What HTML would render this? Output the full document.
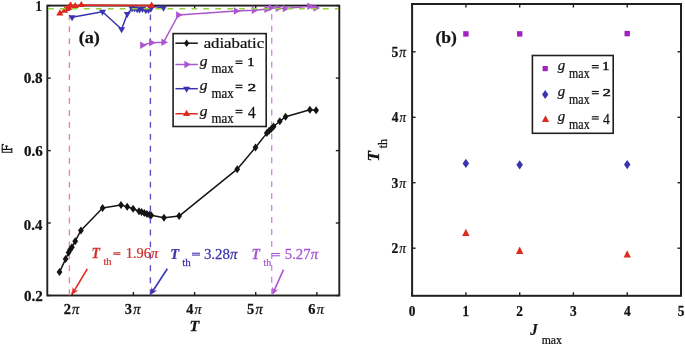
<!DOCTYPE html><html><head><meta charset="utf-8"><style>html,body{margin:0;padding:0;background:#fff;width:685px;height:346px;overflow:hidden}svg{display:block;will-change:transform;filter:blur(0.35px)}</style></head><body>
<svg width="685" height="346" viewBox="0 0 685 346" font-family="Liberation Serif">
<rect width="685" height="346" fill="#fff"/>
<rect x="47.3" y="5.6" width="292.0" height="289.9" fill="none" stroke="#231f1f" stroke-width="1.9"/>
<line x1="72.3" y1="295.5" x2="72.3" y2="292.0" stroke="#231f1f" stroke-width="1.4"/>
<line x1="72.3" y1="5.6" x2="72.3" y2="8.6" stroke="#231f1f" stroke-width="1.4"/>
<line x1="133.4" y1="295.5" x2="133.4" y2="292.0" stroke="#231f1f" stroke-width="1.4"/>
<line x1="133.4" y1="5.6" x2="133.4" y2="8.6" stroke="#231f1f" stroke-width="1.4"/>
<line x1="194.6" y1="295.5" x2="194.6" y2="292.0" stroke="#231f1f" stroke-width="1.4"/>
<line x1="194.6" y1="5.6" x2="194.6" y2="8.6" stroke="#231f1f" stroke-width="1.4"/>
<line x1="255.7" y1="295.5" x2="255.7" y2="292.0" stroke="#231f1f" stroke-width="1.4"/>
<line x1="255.7" y1="5.6" x2="255.7" y2="8.6" stroke="#231f1f" stroke-width="1.4"/>
<line x1="316.9" y1="295.5" x2="316.9" y2="292.0" stroke="#231f1f" stroke-width="1.4"/>
<line x1="316.9" y1="5.6" x2="316.9" y2="8.6" stroke="#231f1f" stroke-width="1.4"/>
<line x1="47.3" y1="295.5" x2="50.8" y2="295.5" stroke="#231f1f" stroke-width="1.4"/>
<line x1="339.3" y1="295.5" x2="335.8" y2="295.5" stroke="#231f1f" stroke-width="1.4"/>
<line x1="47.3" y1="223.0" x2="50.8" y2="223.0" stroke="#231f1f" stroke-width="1.4"/>
<line x1="339.3" y1="223.0" x2="335.8" y2="223.0" stroke="#231f1f" stroke-width="1.4"/>
<line x1="47.3" y1="150.6" x2="50.8" y2="150.6" stroke="#231f1f" stroke-width="1.4"/>
<line x1="339.3" y1="150.6" x2="335.8" y2="150.6" stroke="#231f1f" stroke-width="1.4"/>
<line x1="47.3" y1="78.1" x2="50.8" y2="78.1" stroke="#231f1f" stroke-width="1.4"/>
<line x1="339.3" y1="78.1" x2="335.8" y2="78.1" stroke="#231f1f" stroke-width="1.4"/>
<line x1="47.3" y1="5.6" x2="50.8" y2="5.6" stroke="#231f1f" stroke-width="1.4"/>
<line x1="339.3" y1="5.6" x2="335.8" y2="5.6" stroke="#231f1f" stroke-width="1.4"/>
<line x1="69.4" y1="14.4" x2="69.4" y2="295.5" stroke="#ea8693" stroke-width="1.4" stroke-dasharray="5.9 6.05"/>
<line x1="150.4" y1="14.4" x2="150.4" y2="295.5" stroke="#6a4ec8" stroke-width="1.4" stroke-dasharray="5.9 6.05"/>
<line x1="271.7" y1="13.9" x2="271.7" y2="295.5" stroke="#cf8ae9" stroke-width="1.4" stroke-dasharray="5.9 6.05"/>
<polyline points="59.5,272.1 65.6,259.1 68.6,252.4 70.2,249.6 71.9,247.2 75.2,241.2 80.9,230.4 102.6,208.1 121.0,205.1 127.2,206.8 133.1,208.7 139.0,211.3 141.6,212.1 144.3,213.0 146.9,213.9 149.5,214.7 151.2,215.2 164.0,217.8 179.1,216.1 237.2,169.2 255.5,147.5 266.8,133.1 269.1,130.8 271.4,128.7 273.6,126.5 279.8,121.3 285.6,116.7 309.9,109.7 316.1,110.2" fill="none" stroke="#141414" stroke-width="1.5" stroke-linejoin="round"/>
<path d="M59.5 268.1L62.4 272.1L59.5 276.1L56.6 272.1Z" fill="#141414"/>
<path d="M65.6 255.1L68.5 259.1L65.6 263.1L62.7 259.1Z" fill="#141414"/>
<path d="M68.6 248.4L71.5 252.4L68.6 256.4L65.7 252.4Z" fill="#141414"/>
<path d="M70.2 245.6L73.1 249.6L70.2 253.6L67.3 249.6Z" fill="#141414"/>
<path d="M71.9 243.2L74.8 247.2L71.9 251.2L69.0 247.2Z" fill="#141414"/>
<path d="M75.2 237.2L78.1 241.2L75.2 245.2L72.3 241.2Z" fill="#141414"/>
<path d="M80.9 226.4L83.8 230.4L80.9 234.4L78.0 230.4Z" fill="#141414"/>
<path d="M102.6 204.1L105.5 208.1L102.6 212.1L99.7 208.1Z" fill="#141414"/>
<path d="M121.0 201.1L123.9 205.1L121.0 209.1L118.1 205.1Z" fill="#141414"/>
<path d="M127.2 202.8L130.1 206.8L127.2 210.8L124.3 206.8Z" fill="#141414"/>
<path d="M133.1 204.7L136.0 208.7L133.1 212.7L130.2 208.7Z" fill="#141414"/>
<path d="M139.0 207.3L141.9 211.3L139.0 215.3L136.1 211.3Z" fill="#141414"/>
<path d="M141.6 208.1L144.5 212.1L141.6 216.1L138.7 212.1Z" fill="#141414"/>
<path d="M144.3 209.0L147.2 213.0L144.3 217.0L141.4 213.0Z" fill="#141414"/>
<path d="M146.9 209.9L149.8 213.9L146.9 217.9L144.0 213.9Z" fill="#141414"/>
<path d="M149.5 210.7L152.4 214.7L149.5 218.7L146.6 214.7Z" fill="#141414"/>
<path d="M151.2 211.2L154.1 215.2L151.2 219.2L148.3 215.2Z" fill="#141414"/>
<path d="M164.0 213.8L166.9 217.8L164.0 221.8L161.1 217.8Z" fill="#141414"/>
<path d="M179.1 212.1L182.0 216.1L179.1 220.1L176.2 216.1Z" fill="#141414"/>
<path d="M237.2 165.2L240.1 169.2L237.2 173.2L234.3 169.2Z" fill="#141414"/>
<path d="M255.5 143.5L258.4 147.5L255.5 151.5L252.6 147.5Z" fill="#141414"/>
<path d="M266.8 129.1L269.7 133.1L266.8 137.1L263.9 133.1Z" fill="#141414"/>
<path d="M269.1 126.8L272.0 130.8L269.1 134.8L266.2 130.8Z" fill="#141414"/>
<path d="M271.4 124.7L274.3 128.7L271.4 132.7L268.5 128.7Z" fill="#141414"/>
<path d="M273.6 122.5L276.5 126.5L273.6 130.5L270.7 126.5Z" fill="#141414"/>
<path d="M279.8 117.3L282.7 121.3L279.8 125.3L276.9 121.3Z" fill="#141414"/>
<path d="M285.6 112.7L288.5 116.7L285.6 120.7L282.7 116.7Z" fill="#141414"/>
<path d="M309.9 105.7L312.8 109.7L309.9 113.7L307.0 109.7Z" fill="#141414"/>
<path d="M316.1 106.2L319.0 110.2L316.1 114.2L313.2 110.2Z" fill="#141414"/>
<polyline points="142.3,45.2 151.3,42.8 163.6,42.2 178.3,15.0 236.0,11.0 254.0,10.2 266.6,9.2 270.7,7.8 277.9,8.2 285.0,8.4 309.6,6.3 315.7,8.0" fill="none" stroke="#ab56cf" stroke-width="1.5" stroke-linejoin="round"/>
<path d="M146.6 45.2L140.1 41.5L140.1 49.0Z" fill="#ab56cf"/>
<path d="M155.6 42.8L149.1 39.0L149.1 46.5Z" fill="#ab56cf"/>
<path d="M167.9 42.2L161.4 38.5L161.4 46.0Z" fill="#ab56cf"/>
<path d="M182.6 15.0L176.1 11.2L176.1 18.8Z" fill="#ab56cf"/>
<path d="M240.3 11.0L233.8 7.2L233.8 14.8Z" fill="#ab56cf"/>
<path d="M258.3 10.2L251.8 6.4L251.8 13.9Z" fill="#ab56cf"/>
<path d="M270.9 9.2L264.4 5.4L264.4 12.9Z" fill="#ab56cf"/>
<path d="M275.0 7.8L268.5 4.0L268.5 11.6Z" fill="#ab56cf"/>
<path d="M282.2 8.2L275.7 4.4L275.7 11.9Z" fill="#ab56cf"/>
<path d="M289.3 8.4L282.8 4.7L282.8 12.2Z" fill="#ab56cf"/>
<path d="M313.9 6.3L307.4 2.5L307.4 10.1Z" fill="#ab56cf"/>
<path d="M320.0 8.0L313.5 4.2L313.5 11.8Z" fill="#ab56cf"/>
<polyline points="72.1,17.2 102.5,11.8 121.6,29.2 127.3,13.9 132.0,8.6 134.5,8.6 137.2,9.2 139.5,9.4 142.5,9.1 145.8,10.3 148.4,10.1 150.8,8.7 153.0,6.5 163.5,7.8" fill="none" stroke="#3a34b0" stroke-width="1.5" stroke-linejoin="round"/>
<path d="M72.1 21.2L75.6 15.2L68.6 15.2Z" fill="#3a34b0"/>
<path d="M102.5 15.8L106.0 9.8L99.0 9.8Z" fill="#3a34b0"/>
<path d="M121.6 33.2L125.1 27.2L118.1 27.2Z" fill="#3a34b0"/>
<path d="M127.3 17.9L130.8 11.9L123.8 11.9Z" fill="#3a34b0"/>
<path d="M132.0 12.6L135.5 6.6L128.5 6.6Z" fill="#3a34b0"/>
<path d="M134.5 12.6L138.0 6.6L131.0 6.6Z" fill="#3a34b0"/>
<path d="M137.2 13.2L140.7 7.2L133.7 7.2Z" fill="#3a34b0"/>
<path d="M139.5 13.4L143.0 7.4L136.0 7.4Z" fill="#3a34b0"/>
<path d="M142.5 13.1L146.0 7.1L139.0 7.1Z" fill="#3a34b0"/>
<path d="M145.8 14.3L149.3 8.3L142.3 8.3Z" fill="#3a34b0"/>
<path d="M148.4 14.1L151.9 8.1L144.9 8.1Z" fill="#3a34b0"/>
<path d="M150.8 12.7L154.3 6.7L147.3 6.7Z" fill="#3a34b0"/>
<path d="M163.5 11.8L167.0 5.8L160.0 5.8Z" fill="#3a34b0"/>
<polyline points="59.9,13.3 64.6,10.6 66.8,9.0 68.6,7.8 70.6,5.4 75.2,6.0 81.3,5.0 151.6,5.6" fill="none" stroke="#dc2a1e" stroke-width="1.6" stroke-linejoin="round"/>
<path d="M59.9 9.2L63.5 15.4L56.3 15.4Z" fill="#dc2a1e"/>
<path d="M64.6 6.5L68.2 12.7L61.0 12.7Z" fill="#dc2a1e"/>
<path d="M66.8 4.9L70.4 11.1L63.2 11.1Z" fill="#dc2a1e"/>
<path d="M68.6 3.7L72.2 9.9L65.0 9.9Z" fill="#dc2a1e"/>
<path d="M70.6 1.3L74.2 7.5L67.0 7.5Z" fill="#dc2a1e"/>
<path d="M75.2 1.9L78.8 8.1L71.6 8.1Z" fill="#dc2a1e"/>
<path d="M81.3 0.9L84.9 7.1L77.7 7.1Z" fill="#dc2a1e"/>
<path d="M151.6 1.5L155.2 7.7L148.0 7.7Z" fill="#dc2a1e"/>
<line x1="48" y1="8.7" x2="338.3" y2="8.7" stroke="#94d040" stroke-width="1.6" stroke-dasharray="5.8 6.15"/>
<text transform="translate(23.64 83.14) scale(1.062 1)" font-size="14.26" fill="#141414" stroke="#141414" stroke-width="0.25"><tspan font-weight="bold">0.8</tspan></text>
<text transform="translate(23.95 156.34) scale(1.057 1)" font-size="14.26" fill="#141414" stroke="#141414" stroke-width="0.25"><tspan font-weight="bold">0.6</tspan></text>
<text transform="translate(23.86 229.74) scale(1.031 1)" font-size="14.26" fill="#141414" stroke="#141414" stroke-width="0.25"><tspan font-weight="bold">0.4</tspan></text>
<text transform="translate(23.95 300.93) scale(1.048 1)" font-size="14.41" fill="#141414" stroke="#141414" stroke-width="0.25"><tspan font-weight="bold">0.2</tspan></text>
<text transform="translate(35.46 10.70) scale(0.921 1)" font-size="14.09" fill="#141414" stroke="#141414" stroke-width="0.25"><tspan font-weight="bold">1</tspan></text>
<text transform="translate(63.65 313.91) scale(1.020 1)" font-size="14.18" fill="#141414" stroke="#141414" stroke-width="0.25"><tspan font-weight="bold">2</tspan><tspan dx="0.08em" font-style="italic">π</tspan></text>
<text transform="translate(124.81 313.91) scale(1.020 1)" font-size="14.18" fill="#141414" stroke="#141414" stroke-width="0.25"><tspan font-weight="bold">3</tspan><tspan dx="0.08em" font-style="italic">π</tspan></text>
<text transform="translate(186.33 313.91) scale(0.996 1)" font-size="14.18" fill="#141414" stroke="#141414" stroke-width="0.25"><tspan font-weight="bold">4</tspan><tspan dx="0.08em" font-style="italic">π</tspan></text>
<text transform="translate(247.12 313.91) scale(1.012 1)" font-size="14.29" fill="#141414" stroke="#141414" stroke-width="0.25"><tspan font-weight="bold">5</tspan><tspan dx="0.08em" font-style="italic">π</tspan></text>
<text transform="translate(308.35 313.91) scale(1.015 1)" font-size="14.18" fill="#141414" stroke="#141414" stroke-width="0.25"><tspan font-weight="bold">6</tspan><tspan dx="0.08em" font-style="italic">π</tspan></text>
<text transform="translate(189.55 331.35) scale(1.101 1)" font-size="14.50" fill="#141414" stroke="#141414" stroke-width="0.25"><tspan font-weight="bold" font-style="italic">T</tspan></text>
<text transform="translate(78.63 42.97) scale(1.126 1)" font-size="16.11" fill="#141414" stroke="#141414" stroke-width="0.25"><tspan font-weight="bold">(a)</tspan></text>
<g fill="none" stroke="#141414" stroke-width="1.1"><path d="M1.5 149.4H12.2M1.5 152.2H12.2M2.2 152.2V144.6Q2.6 144 3.8 144.8M6.5 149.4V146.2M5.2 146.1H7.9M11.8 148V152.9"/></g>
<rect x="173.1" y="33.6" width="93.1" height="92.9" fill="#fff" stroke="#231f1f" stroke-width="1.6"/>
<line x1="175.4" y1="43.2" x2="197.8" y2="43.2" stroke="#141414" stroke-width="1.5"/>
<path d="M186.6 39.4L189.2 43.2L186.6 47.0L184.0 43.2Z" fill="#141414"/>
<line x1="175.4" y1="64.5" x2="197.8" y2="64.5" stroke="#ab56cf" stroke-width="1.5"/>
<path d="M190.9 64.5L184.4 60.8L184.4 68.2Z" fill="#ab56cf"/>
<line x1="175.4" y1="88.7" x2="197.8" y2="88.7" stroke="#3a34b0" stroke-width="1.5"/>
<path d="M186.6 92.7L190.1 86.7L183.1 86.7Z" fill="#3a34b0"/>
<line x1="175.4" y1="113.8" x2="197.8" y2="113.8" stroke="#dc2a1e" stroke-width="1.5"/>
<path d="M186.6 109.7L190.2 115.9L183.0 115.9Z" fill="#dc2a1e"/>
<text transform="translate(203.66 48.10) scale(1.094 1)" font-size="15.32" fill="#141414" stroke="#141414" stroke-width="0.25">adiabatic</text>
<text transform="translate(199.75 66.29) scale(1.100 1)" font-size="14.12" fill="#141414" stroke="#141414" stroke-width="0.25"><tspan font-style="italic">g</tspan></text>
<text transform="translate(211.39 73.41) scale(0.953 1)" font-size="13.54" fill="#141414" stroke="#141414" stroke-width="0.25">max</text>
<rect x="235.50" y="60.50" width="7.00" height="1.15" fill="#141414"/>
<rect x="235.50" y="62.85" width="7.00" height="1.15" fill="#141414"/>
<text transform="translate(247.42 66.45) scale(1.146 1)" font-size="11.97" fill="#141414" stroke="#141414" stroke-width="0.55">1</text>
<text transform="translate(199.75 90.49) scale(1.100 1)" font-size="14.12" fill="#141414" stroke="#141414" stroke-width="0.25"><tspan font-style="italic">g</tspan></text>
<text transform="translate(211.39 97.61) scale(0.953 1)" font-size="13.54" fill="#141414" stroke="#141414" stroke-width="0.25">max</text>
<rect x="235.50" y="84.70" width="7.00" height="1.15" fill="#141414"/>
<rect x="235.50" y="87.05" width="7.00" height="1.15" fill="#141414"/>
<text transform="translate(247.80 90.65) scale(1.494 1)" font-size="11.21" fill="#141414" stroke="#141414" stroke-width="0.55">2</text>
<text transform="translate(199.75 115.59) scale(1.100 1)" font-size="14.12" fill="#141414" stroke="#141414" stroke-width="0.25"><tspan font-style="italic">g</tspan></text>
<text transform="translate(211.39 122.71) scale(0.953 1)" font-size="13.54" fill="#141414" stroke="#141414" stroke-width="0.25">max</text>
<rect x="235.50" y="109.80" width="7.00" height="1.15" fill="#141414"/>
<rect x="235.50" y="112.15" width="7.00" height="1.15" fill="#141414"/>
<text transform="translate(248.04 118.15) scale(0.969 1)" font-size="15.76" fill="#141414" stroke="#141414" stroke-width="0.25">4</text>
<line x1="87.3" y1="268.8" x2="74.0" y2="291.1" stroke="#dc2a1e" stroke-width="1.6"/>
<path d="M71.7 295.0L72.7 286.9L74.4 290.4L78.4 290.2Z" fill="#dc2a1e"/>
<line x1="167.3" y1="268.8" x2="152.7" y2="291.2" stroke="#3a34b0" stroke-width="1.6"/>
<path d="M150.3 295.0L151.6 286.9L153.2 290.6L157.2 290.5Z" fill="#3a34b0"/>
<line x1="283.5" y1="269.7" x2="274.0" y2="290.9" stroke="#ab56cf" stroke-width="1.6"/>
<path d="M272.2 295.0L272.2 286.8L274.4 290.2L278.3 289.5Z" fill="#ab56cf"/>
<text transform="translate(91.61 257.85) scale(0.966 1)" font-size="14.35" fill="#d0302c" stroke="#d0302c" stroke-width="0.25"><tspan font-weight="bold" font-style="italic">T</tspan></text>
<text transform="translate(103.45 265.14) scale(0.984 1)" font-size="10.64" fill="#d0302c" stroke="#d0302c" stroke-width="0.25">th</text>
<rect x="113.30" y="252.30" width="7.10" height="1.05" fill="#d0302c"/>
<rect x="113.30" y="253.75" width="7.10" height="1.05" fill="#d0302c"/>
<text transform="translate(125.76 257.93) scale(0.990 1)" font-size="14.52" fill="#d0302c" stroke="#d0302c" stroke-width="0.25">1.96<tspan font-style="italic">π</tspan></text>
<text transform="translate(170.37 258.65) scale(0.992 1)" font-size="14.50" fill="#3c34a8" stroke="#3c34a8" stroke-width="0.25"><tspan font-weight="bold" font-style="italic">T</tspan></text>
<text transform="translate(182.24 265.94) scale(0.981 1)" font-size="11.21" fill="#3c34a8" stroke="#3c34a8" stroke-width="0.25">th</text>
<rect x="192.00" y="252.70" width="8.00" height="1.05" fill="#3c34a8"/>
<rect x="192.00" y="254.55" width="8.00" height="1.05" fill="#3c34a8"/>
<text transform="translate(203.91 258.53) scale(1.032 1)" font-size="14.41" fill="#3c34a8" stroke="#3c34a8" stroke-width="0.25">3.28<tspan font-style="italic">π</tspan></text>
<text transform="translate(251.61 259.45) scale(0.956 1)" font-size="14.50" fill="#a656d4" stroke="#a656d4" stroke-width="0.25"><tspan font-weight="bold" font-style="italic">T</tspan></text>
<text transform="translate(263.45 266.14) scale(0.910 1)" font-size="10.92" fill="#a656d4" stroke="#a656d4" stroke-width="0.25">th</text>
<rect x="271.80" y="253.00" width="8.30" height="1.05" fill="#a656d4"/>
<rect x="271.80" y="255.25" width="8.30" height="1.05" fill="#a656d4"/>
<text transform="translate(284.76 258.84) scale(1.052 1)" font-size="14.07" fill="#a656d4" stroke="#a656d4" stroke-width="0.25">5.27<tspan font-style="italic">π</tspan></text>
<rect x="412.1" y="4.0" width="268.9" height="291.8" fill="none" stroke="#231f1f" stroke-width="2"/>
<line x1="412.1" y1="295.8" x2="412.1" y2="292.3" stroke="#231f1f" stroke-width="1.4"/>
<line x1="412.1" y1="4.0" x2="412.1" y2="7.5" stroke="#231f1f" stroke-width="1.4"/>
<text transform="translate(408.77 315.71) scale(0.947 1)" font-size="14.07" fill="#141414" stroke="#141414" stroke-width="0.25"><tspan font-weight="bold">0</tspan></text>
<line x1="465.9" y1="295.8" x2="465.9" y2="292.3" stroke="#231f1f" stroke-width="1.4"/>
<line x1="465.9" y1="4.0" x2="465.9" y2="7.5" stroke="#231f1f" stroke-width="1.4"/>
<text transform="translate(462.41 315.85) scale(0.911 1)" font-size="14.39" fill="#141414" stroke="#141414" stroke-width="0.25"><tspan font-weight="bold">1</tspan></text>
<line x1="519.7" y1="295.8" x2="519.7" y2="292.3" stroke="#231f1f" stroke-width="1.4"/>
<line x1="519.7" y1="4.0" x2="519.7" y2="7.5" stroke="#231f1f" stroke-width="1.4"/>
<text transform="translate(516.36 315.85) scale(0.925 1)" font-size="14.39" fill="#141414" stroke="#141414" stroke-width="0.25"><tspan font-weight="bold">2</tspan></text>
<line x1="573.4" y1="295.8" x2="573.4" y2="292.3" stroke="#231f1f" stroke-width="1.4"/>
<line x1="573.4" y1="4.0" x2="573.4" y2="7.5" stroke="#231f1f" stroke-width="1.4"/>
<text transform="translate(570.07 315.71) scale(0.942 1)" font-size="14.18" fill="#141414" stroke="#141414" stroke-width="0.25"><tspan font-weight="bold">3</tspan></text>
<line x1="627.2" y1="295.8" x2="627.2" y2="292.3" stroke="#231f1f" stroke-width="1.4"/>
<line x1="627.2" y1="4.0" x2="627.2" y2="7.5" stroke="#231f1f" stroke-width="1.4"/>
<text transform="translate(623.88 315.85) scale(0.938 1)" font-size="14.39" fill="#141414" stroke="#141414" stroke-width="0.25"><tspan font-weight="bold">4</tspan></text>
<line x1="681.0" y1="295.8" x2="681.0" y2="292.3" stroke="#231f1f" stroke-width="1.4"/>
<line x1="681.0" y1="4.0" x2="681.0" y2="7.5" stroke="#231f1f" stroke-width="1.4"/>
<text transform="translate(677.63 315.71) scale(0.935 1)" font-size="14.29" fill="#141414" stroke="#141414" stroke-width="0.25"><tspan font-weight="bold">5</tspan></text>
<line x1="412.1" y1="248.2" x2="415.6" y2="248.2" stroke="#231f1f" stroke-width="1.4"/>
<line x1="681.0" y1="248.2" x2="677.5" y2="248.2" stroke="#231f1f" stroke-width="1.4"/>
<text transform="translate(391.41 253.32) scale(0.940 1)" font-size="14.48" fill="#141414" stroke="#141414" stroke-width="0.25"><tspan font-weight="bold">2</tspan><tspan dx="0.08em" font-style="italic">π</tspan></text>
<line x1="412.1" y1="182.7" x2="415.6" y2="182.7" stroke="#231f1f" stroke-width="1.4"/>
<line x1="681.0" y1="182.7" x2="677.5" y2="182.7" stroke="#231f1f" stroke-width="1.4"/>
<text transform="translate(391.41 187.84) scale(0.940 1)" font-size="14.48" fill="#141414" stroke="#141414" stroke-width="0.25"><tspan font-weight="bold">3</tspan><tspan dx="0.08em" font-style="italic">π</tspan></text>
<line x1="412.1" y1="117.3" x2="415.6" y2="117.3" stroke="#231f1f" stroke-width="1.4"/>
<line x1="681.0" y1="117.3" x2="677.5" y2="117.3" stroke="#231f1f" stroke-width="1.4"/>
<text transform="translate(391.75 122.36) scale(0.919 1)" font-size="14.48" fill="#141414" stroke="#141414" stroke-width="0.25"><tspan font-weight="bold">4</tspan><tspan dx="0.08em" font-style="italic">π</tspan></text>
<line x1="412.1" y1="51.8" x2="415.6" y2="51.8" stroke="#231f1f" stroke-width="1.4"/>
<line x1="681.0" y1="51.8" x2="677.5" y2="51.8" stroke="#231f1f" stroke-width="1.4"/>
<text transform="translate(391.41 56.88) scale(0.933 1)" font-size="14.59" fill="#141414" stroke="#141414" stroke-width="0.25"><tspan font-weight="bold">5</tspan><tspan dx="0.08em" font-style="italic">π</tspan></text>
<rect x="463.2" y="31.2" width="5.4" height="5.4" fill="#a221bf"/>
<rect x="517.0" y="31.2" width="5.4" height="5.4" fill="#a221bf"/>
<rect x="624.5" y="30.9" width="5.4" height="5.4" fill="#a221bf"/>
<path d="M465.9 158.8L469.1 163.4L465.9 168.1L462.6 163.4Z" fill="#3a34b0"/>
<path d="M519.7 160.2L522.9 164.8L519.7 169.5L516.4 164.8Z" fill="#3a34b0"/>
<path d="M627.2 159.9L630.5 164.6L627.2 169.2L624.0 164.6Z" fill="#3a34b0"/>
<path d="M465.9 228.7L469.5 236.1L462.2 236.1Z" fill="#dc2a1e"/>
<path d="M519.7 246.5L523.3 253.9L516.0 253.9Z" fill="#dc2a1e"/>
<path d="M627.2 250.2L630.9 257.6L623.6 257.6Z" fill="#dc2a1e"/>
<text transform="translate(435.46 42.89) scale(1.065 1)" font-size="16.46" fill="#141414" stroke="#141414" stroke-width="0.25"><tspan font-weight="bold">(b)</tspan></text>
<rect x="532.4" y="55.5" width="80.8" height="77.8" fill="#fff" stroke="#231f1f" stroke-width="1.6"/>
<rect x="542.6" y="66.0" width="5.2" height="5.2" fill="#a221bf"/>
<path d="M545.2 90.0L548.4 94.5L545.2 99.0L542.1 94.5Z" fill="#3a34b0"/>
<path d="M545.5 115.3L549.1 122.1L541.9 122.1Z" fill="#dc2a1e"/>
<text transform="translate(557.85 70.19) scale(1.055 1)" font-size="14.12" fill="#141414" stroke="#141414" stroke-width="0.25"><tspan font-style="italic">g</tspan></text>
<text transform="translate(569.11 77.61) scale(0.865 1)" font-size="13.75" fill="#141414" stroke="#141414" stroke-width="0.25">max</text>
<rect x="591.80" y="65.00" width="7.00" height="1.15" fill="#141414"/>
<rect x="591.80" y="67.25" width="7.00" height="1.15" fill="#141414"/>
<text transform="translate(602.36 70.15) scale(1.224 1)" font-size="11.67" fill="#141414" stroke="#141414" stroke-width="0.55">1</text>
<text transform="translate(557.85 96.09) scale(1.055 1)" font-size="14.12" fill="#141414" stroke="#141414" stroke-width="0.25"><tspan font-style="italic">g</tspan></text>
<text transform="translate(569.11 103.51) scale(0.865 1)" font-size="13.75" fill="#141414" stroke="#141414" stroke-width="0.25">max</text>
<rect x="591.80" y="90.90" width="7.00" height="1.15" fill="#141414"/>
<rect x="591.80" y="93.15" width="7.00" height="1.15" fill="#141414"/>
<text transform="translate(602.83 95.75) scale(1.408 1)" font-size="11.36" fill="#141414" stroke="#141414" stroke-width="0.55">2</text>
<text transform="translate(557.85 121.39) scale(1.055 1)" font-size="14.12" fill="#141414" stroke="#141414" stroke-width="0.25"><tspan font-style="italic">g</tspan></text>
<text transform="translate(569.11 128.81) scale(0.865 1)" font-size="13.75" fill="#141414" stroke="#141414" stroke-width="0.25">max</text>
<rect x="591.80" y="116.20" width="7.00" height="1.15" fill="#141414"/>
<rect x="591.80" y="118.45" width="7.00" height="1.15" fill="#141414"/>
<text transform="translate(603.08 124.05) scale(0.922 1)" font-size="14.70" fill="#141414" stroke="#141414" stroke-width="0.25">4</text>
<text transform="translate(530.25 335.28) scale(0.898 1)" font-size="16.54" fill="#141414" stroke="#141414" stroke-width="0.25"><tspan font-weight="bold" font-style="italic">J</tspan></text>
<text transform="translate(541.71 343.83) scale(0.974 1)" font-size="12.08" fill="#141414" stroke="#141414" stroke-width="0.25">max</text>
<g transform="rotate(-90)">
<text transform="translate(-161.53 378.75) scale(1.082 1)" font-size="15.73" fill="#141414" stroke="#141414" stroke-width="0.25"><tspan font-weight="bold" font-style="italic">T</tspan></text>
<text transform="translate(-148.27 386.63) scale(1.000 1)" font-size="12.06" fill="#141414" stroke="#141414" stroke-width="0.25">th</text>
</g>
</svg></body></html>
